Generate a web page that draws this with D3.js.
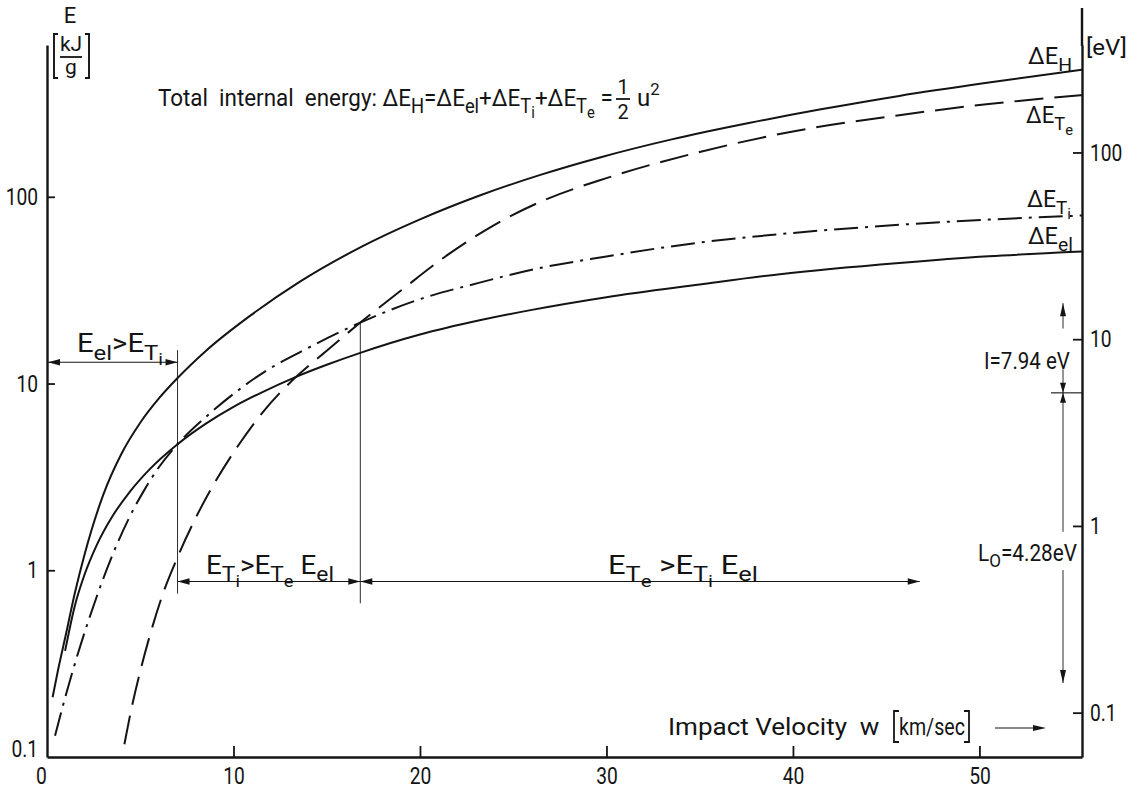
<!DOCTYPE html>
<html>
<head>
<meta charset="utf-8">
<script src="https://cdn.jsdelivr.net/npm/d3@7"></script>
<style>
  html, body { margin: 0; background: #fff; }
  svg { display: block; }
  text { font-family: Roboto, "DejaVu Sans", sans-serif; fill: #141414; }
</style>
</head>
<body>
<svg id="chart" width="1132" height="792"></svg>
<script>
// ---- tick labels ----
const velocityTicks = [0, 10, 20, 30, 40, 50];
const energyTicks = [0.1, 1, 10, 100];          // kJ/g
const energyTickLabels = ["0.1", "1", "10", "100"];
const evTicks = [0.1, 1, 10, 100];              // eV per atom
const evTickLabels = ["0.1", "1", "10", "100"];

// ---- energy partition vs impact velocity (w in km/s, E in kJ/g) ----
const wH  = [0.3, 0.6, 1.0, 1.5, 2.0, 3.0, 4.0, 5.0, 6.0, 7.0, 8.5, 10.9, 13.5, 16.8, 20.0, 23.2, 26.5, 29.7, 33.5, 37.7, 41.5, 45.7, 50.5, 55.5];
const eH  = [0.209, 0.295, 0.447, 0.76, 1.2, 2.51, 4.22, 6.17, 8.32, 10.7, 14.9, 23.1, 34.8, 53.6, 75.7, 101.6, 131.5, 163, 203, 249, 294, 347, 409, 479];

const wEl = [0.97, 1.5, 2.0, 2.66, 3.5, 4.45, 5.5, 7.0, 8.5, 10.0, 11.5, 13.2, 15.0, 16.8, 20.0, 23.2, 26.0, 30.0, 35.0, 39.3, 45.7, 50.5, 55.5];
const eEl = [0.37, 0.65, 0.94, 1.36, 1.94, 2.64, 3.47, 4.73, 6.08, 7.5, 8.95, 10.7, 12.6, 14.6, 18.3, 21.8, 24.8, 29.0, 33.9, 38.5, 44.2, 48.0, 50.9];

const wTi = [0.43, 1.0, 1.77, 2.66, 3.5, 4.45, 5.2, 5.9, 7.0, 8.5, 10.0, 11.6, 13.5, 16.8, 20.0, 23.2, 26.0, 30.0, 35.0, 39.3, 45.7, 50.5, 55.5];
const eTi = [0.13, 0.213, 0.389, 0.719, 1.2, 1.95, 2.67, 3.45, 4.73, 6.6, 8.8, 11.45, 14.6, 21.2, 28.3, 34.7, 40.7, 47.9, 56.9, 63.1, 70.8, 75.5, 79.4];

const wTe = [4.15, 4.5, 5.0, 5.5, 6.2, 7.0, 8.0, 9.0, 10.2, 11.6, 13.2, 15.0, 16.8, 19.0, 21.5, 24.0, 26.5, 30.0, 35.0, 40.0, 45.7, 50.5, 55.5];
const eTe = [0.117, 0.176, 0.288, 0.442, 0.741, 1.175, 1.93, 2.95, 4.57, 7.08, 10.5, 15.0, 21.2, 31.6, 49.0, 70.8, 94.4, 125.9, 173.8, 223.9, 273.5, 314, 350];

// regime boundaries (km/s) and characteristic energies (eV)
const regimeBounds = [7.0, 16.8];
const ionizationEV = 7.94;
const sublimationEV = 4.28;
const kJperGramPerEV = 1.7276;   // 1 eV per Fe atom in kJ/g

// ---- scales ----
const svg = d3.select("#chart");
const x = d3.scaleLinear().domain([0, 55.5]).range([47, 1082]);
const y = d3.scaleLog().domain([0.1, 650]).range([757, 45]);
const yEv = d3.scaleLog().domain([0.1 / kJperGramPerEV, 650 / kJperGramPerEV]).range([757, 45]);

const ink = "#141414";

// ---- axes ----
const axL = svg.append("g").attr("transform", `translate(${x(0)},0)`)
  .call(d3.axisLeft(y).tickValues(energyTicks).tickSizeInner(-8).tickSizeOuter(0).tickPadding(9)
    .tickFormat((d, i) => energyTickLabels[i]));
const axR = svg.append("g").attr("transform", `translate(${x.range()[1]},0)`)
  .call(d3.axisRight(yEv).tickValues(evTicks).tickSizeInner(-9).tickSizeOuter(0).tickPadding(8)
    .tickFormat((d, i) => evTickLabels[i]));
const axB = svg.append("g").attr("transform", `translate(0,${y(0.1)})`)
  .call(d3.axisBottom(x).tickValues(velocityTicks).tickSizeInner(-11).tickSizeOuter(0).tickPadding(8)
    .tickFormat(d3.format("d")));

const tickSqueeze = 0.8;
[axL, axR, axB].forEach(a => {
  a.select(".domain").attr("stroke", ink).attr("stroke-width", 2.4);
  a.selectAll(".tick line").attr("stroke", ink).attr("stroke-width", 1.8);
  a.selectAll(".tick text").attr("font-size", 24).attr("fill", ink)
    .style("font-family", "Roboto, 'DejaVu Sans', sans-serif")
    .attr("x", function () { return (+this.getAttribute("x") || 0) / tickSqueeze; })
    .attr("transform", `scale(${tickSqueeze},1)`);
});
axB.selectAll(".tick").filter(d => d === 0).select("line").remove();
axB.selectAll(".tick").filter(d => d === 0).select("text").attr("x", -6 / tickSqueeze);
axL.selectAll(".tick").filter(d => d === 0.1).select("line").remove();
axL.selectAll(".tick").filter(d => d === 0.1).select("text").attr("dy", "-0.02em");
axB.selectAll(".tick text").attr("dy", "0.78em");
// right axis continues above the plotted range
svg.append("line").attr("x1", x.range()[1]).attr("x2", x.range()[1])
  .attr("y1", 46).attr("y2", 8).attr("stroke", ink).attr("stroke-width", 2.4);

// ---- rich text helper (subscripts / superscripts), optionally fitted to a width ----
const levelShift = { "0": 0, "1": 0.3, "2": 0.52, "-1": -0.45 };
const levelSize = { "0": 1, "1": 0.82, "2": 0.66, "-1": 0.7 };
function rich(px, py, parts, size, anchor, width) {
  const g = svg.append("g");
  const t = g.append("text").attr("x", 0).attr("y", 0).attr("font-size", size);
  let cur = 0;
  parts.forEach(([s, lvl]) => {
    const off = levelShift[lvl] * size;
    t.append("tspan").attr("dy", off - cur).attr("font-size", levelSize[lvl] * size)
      .attr("xml:space", "preserve").text(s);
    cur = off;
  });
  const w0 = t.node().getComputedTextLength();
  const sx = width ? width / w0 : 1;
  const w = w0 * sx;
  const left = anchor === "middle" ? px - w / 2 : anchor === "end" ? px - w : px;
  g.attr("transform", `translate(${left},${py}) scale(${sx},1)`);
  return { g, left, right: left + w };
}

// ---- curves ----
const line = d3.line().x(d => x(d[0])).y(d => y(d[1])).curve(d3.curveMonotoneX);
const zip = (a, b) => a.map((v, i) => [v, b[i]]);
const curves = [
  { pts: zip(wH, eH), dash: null },
  { pts: zip(wEl, eEl), dash: null },
  { pts: zip(wTi, eTi), dash: "24,7,3,7" },
  { pts: zip(wTe, eTe), dash: "29,11" }
];
curves.forEach(c => {
  svg.append("path").attr("d", line(c.pts)).attr("fill", "none")
    .attr("stroke", ink).attr("stroke-width", 2)
    .attr("stroke-dasharray", c.dash);
});

// ---- arrow helpers ----
function head(tx, ty, ang, len = 12, hw = 3.2) {
  const c = Math.cos(ang), s = Math.sin(ang);
  const bx = tx - c * len, by = ty - s * len;
  svg.append("path")
    .attr("d", `M${tx},${ty}L${bx - s * hw},${by + c * hw}L${bx + s * hw},${by - c * hw}Z`)
    .attr("fill", ink);
}
const thin = (x1, y1, x2, y2, w = 1.1) => svg.append("line")
  .attr("x1", x1).attr("y1", y1).attr("x2", x2).attr("y2", y2)
  .attr("stroke", ink).attr("stroke-width", w);

// regime boundary verticals
const xb1 = x(regimeBounds[0]), xb2 = x(regimeBounds[1]);
thin(xb1, y(15.1), xb1, y(0.75), 0.9);
thin(xb2, y(21.2), xb2, y(0.665), 0.9);

// E_el > E_Ti
const yA = y(13.0);
thin(x(0), yA, xb1, yA);
head(x(0) + 1, yA, Math.PI);
head(xb1, yA, 0);
rich(120, yA - 10, [["E", 0], ["el", 1], [">E", 0], ["T", 1], ["i", 2]], 25, "middle", 86);

// lower regime arrows
const yB = y(0.87);
thin(xb1, yB, xb2, yB);
head(xb1, yB, Math.PI);
head(xb2, yB, 0);
rich(270, yB - 8, [["E", 0], ["T", 1], ["i", 2], [">E", 0], ["T", 1], ["e", 2], [" E", 0], ["el", 1]], 25, "middle", 128);
const xEnd = x(46.8);
thin(xb2, yB, xEnd, yB);
head(xb2, yB, Math.PI);
head(xEnd, yB, 0);
rich(683, yB - 8, [["E", 0], ["T", 1], ["e", 2], [" >E", 0], ["T", 1], ["i", 2], [" E", 0], ["el", 1]], 25, "middle", 150);

// ---- ionization / sublimation markers on the eV side ----
const xd = 1063;
const yBound = yEv(5.16), yTop = yEv(15.6), yBot = yEv(0.144);
thin(1051, yBound, x.range()[1], yBound, 1.1);
thin(xd, yTop, xd, yEv(11.4), 0.9);
head(xd, yTop, -Math.PI / 2, 13, 3);
thin(xd, yEv(6.9), xd, yBound, 0.9);
head(xd, yBound, Math.PI / 2, 10, 3);
head(xd, yBound, -Math.PI / 2, 10, 3);
thin(xd, yBound, xd, yEv(0.93), 0.9);
thin(xd, yEv(0.58), xd, yBot, 0.9);
head(xd, yBot, Math.PI / 2, 13, 3);
rich(1070, yEv(7.6) + 8, [["I=" + ionizationEV.toFixed(2) + " eV", 0]], 23, "end", 86);
rich(1077, yEv(0.72) + 8, [["L", 0], ["O", 1], ["=" + sublimationEV.toFixed(2) + "eV", 0]], 23, "end", 99);

// ---- curve labels at the right edge ----
rich(1072, 64, [["ΔE", 0], ["H", 1]], 23, "end", 44);
rich(1073, 123, [["ΔE", 0], ["T", 1], ["e", 2]], 23, "end", 47);
rich(1071, 207, [["ΔE", 0], ["T", 1], ["i", 2]], 23, "end", 44);
rich(1073, 244, [["ΔE", 0], ["el", 1]], 23, "end", 45);
rich(1086, 55, [["[eV]", 0]], 22, "start", 41);

// ---- left axis title E [kJ/g] ----
rich(70, 23, [["E", 0]], 22, "middle");
rich(71, 51, [["kJ", 0]], 21, "middle");
thin(60, 57, 82, 57, 1.8);
rich(71, 74, [["g", 0]], 21, "middle");
svg.append("path").attr("d", "M58,34H54V78H58").attr("fill", "none").attr("stroke", ink).attr("stroke-width", 1.9);
svg.append("path").attr("d", "M85,34H89V78H85").attr("fill", "none").attr("stroke", ink).attr("stroke-width", 1.9);

// ---- total energy relation ----
const title = rich(158, 106,
  [["Total  internal  energy: ΔE", 0], ["H", 1], ["=ΔE", 0], ["el", 1], ["+ΔE", 0], ["T", 1], ["i", 2],
   ["+ΔE", 0], ["T", 1], ["e", 2], [" =", 0]], 24, "start", 455);
const fx = title.right + 10;
rich(fx, 94, [["1", 0]], 20, "middle");
thin(fx - 7, 99, fx + 7, 99, 1.8);
rich(fx, 119, [["2", 0]], 20, "middle");
rich(fx + 14, 106, [["u", 0], ["2", -1]], 24, "start");

// ---- abscissa title ----
const xt = rich(668, 735, [["Impact Velocity  w ", 0]], 23, "start", 218);
const bx0 = xt.right + 8;
svg.append("path").attr("d", `M${bx0 + 5},711H${bx0}V742H${bx0 + 5}`)
  .attr("fill", "none").attr("stroke", ink).attr("stroke-width", 1.8);
rich(bx0 + 5, 735, [["km/sec", 0]], 23, "start", 66);
const bx1 = bx0 + 5 + 66 + 4;
svg.append("path").attr("d", `M${bx1 - 5},711H${bx1}V742H${bx1 - 5}`)
  .attr("fill", "none").attr("stroke", ink).attr("stroke-width", 1.8);
thin(995, 728, 1040, 728, 1.1);
head(1046, 728, 0, 13, 3);
</script>
</body>
</html>
